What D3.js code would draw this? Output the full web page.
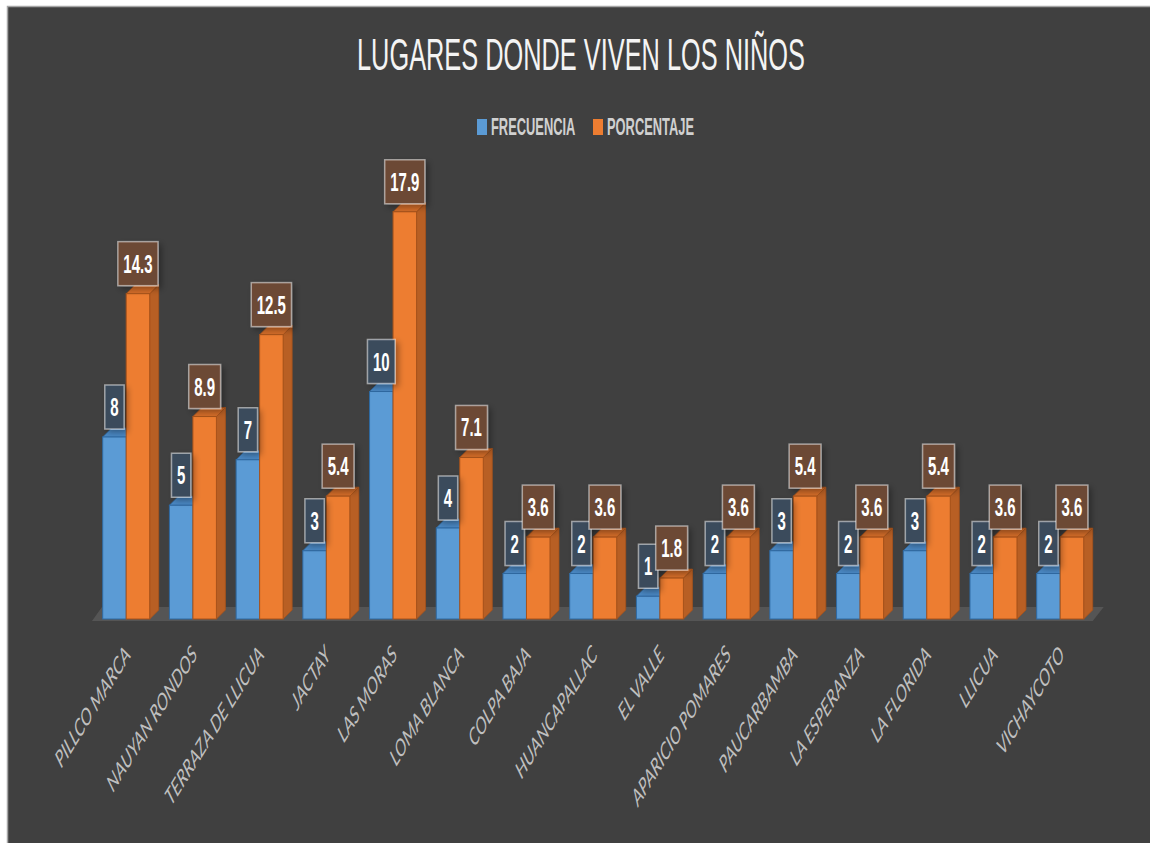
<!DOCTYPE html>
<html>
<head>
<meta charset="utf-8">
<script src="https://cdn.jsdelivr.net/npm/d3@7"></script>
<style>
  body { margin: 0; background: #ffffff; }
  svg { display: block; }
</style>
</head>
<body>
<div id="chart"></div>
<script>
const categorias = ['PILLCO MARCA', 'NAUYAN RONDOS', 'TERRAZA DE LLICUA', 'JACTAY', 'LAS MORAS', 'LOMA BLANCA',
  'COLPA BAJA', 'HUANCAPALLAC', 'EL VALLE', 'APARICIO POMARES', 'PAUCARBAMBA', 'LA ESPERANZA',
  'LA FLORIDA', 'LLICUA', 'VICHAYCOTO'];
const frecuencia = [8, 5, 7, 3, 10, 4, 2, 2, 1, 2, 3, 2, 3, 2, 2];
const porcentaje = [14.3, 8.9, 12.5, 5.4, 17.9, 7.1, 3.6, 3.6, 1.8, 3.6, 5.4, 3.6, 5.4, 3.6, 3.6];
const seriesNames = ['FRECUENCIA', 'PORCENTAJE'];
const titulo = 'LUGARES DONDE VIVEN LOS NIÑOS';

const W = 1150, H = 843;
const depth = { dx: 9, dy: 9 };
const barW = 23.5, barOffset = 10.7;

const styles = {
  FRECUENCIA: { front: '#5b9bd5', side: '#3f76ab', top: '#4a88c4', edge: '#2f6aa3', box: '#3b4b5c' },
  PORCENTAJE: { front: '#ed7d31', side: '#b85f24', top: '#d46d29', edge: '#a8531b', box: '#6c4834' }
};

const svg = d3.select('#chart').append('svg')
  .attr('width', W)
  .attr('height', H);

const defs = svg.append('defs');
const shadow = defs.append('filter').attr('id', 'shadow')
  .attr('x', '-50%').attr('y', '-50%').attr('width', '200%').attr('height', '200%');
shadow.append('feDropShadow')
  .attr('dx', 3).attr('dy', 3).attr('stdDeviation', 3)
  .attr('flood-color', '#000').attr('flood-opacity', 0.35);

// chart area (border only visible on top and left)
svg.append('rect')
  .attr('x', 7.5).attr('y', 6.5)
  .attr('width', W).attr('height', H)
  .attr('fill', '#404040')
  .attr('stroke', '#a6a6a6')
  .attr('stroke-width', 1.5);

// title
svg.append('text')
  .attr('x', 357).attr('y', 70)
  .attr('textLength', 448)
  .attr('lengthAdjust', 'spacingAndGlyphs')
  .style('font-family', '"Liberation Sans", Arial, sans-serif')
  .style('font-size', '44px')
  .attr('fill', '#f4f4f4')
  .text(titulo);

// legend (narrow text via horizontal scale)
const legendX = [477, 593];
const legend = svg.selectAll('.legend')
  .data(seriesNames)
  .enter()
  .append('g')
  .attr('class', 'legend')
  .attr('transform', (d, i) => `translate(${legendX[i]},119)`);

legend.append('rect')
  .attr('width', 10).attr('height', 16)
  .attr('fill', d => styles[d].front);

legend.append('g')
  .attr('transform', 'translate(14,16) scale(0.56,1)')
  .append('text')
  .style('font-family', '"Liberation Sans", Arial, sans-serif')
  .style('font-size', '23px')
  .style('font-weight', 'bold')
  .attr('fill', '#d0d0d0')
  .text(d => d);

// scales
const x = d3.scaleBand()
  .domain(categorias)
  .range([92, 1092.7])
  .paddingInner(0)
  .paddingOuter(0);

const y = d3.scaleLinear()
  .domain([0, 20])
  .range([619, 164]);

// floor
const [x0, x1] = x.range();
svg.append('polygon')
  .attr('points', [
    [x0, y(0) + 2], [x1, y(0) + 2],
    [x1 + 11, y(0) - 12], [x0 + 10, y(0) - 12]
  ].map(p => p.join(',')).join(' '))
  .attr('fill', '#555555');

const rows = categorias.map((c, i) => ({
  cat: c,
  bars: [
    { serie: 'FRECUENCIA', value: frecuencia[i], x: x(c) + barOffset },
    { serie: 'PORCENTAJE', value: porcentaje[i], x: x(c) + barOffset + barW }
  ]
}));

const bars = svg.selectAll('.group')
  .data(rows)
  .enter()
  .append('g')
  .attr('class', 'group')
  .selectAll('.bar')
  .data(d => d.bars)
  .enter()
  .append('g')
  .attr('class', 'bar');

function pts(arr) { return arr.map(p => p.join(',')).join(' '); }

// side face
bars.append('polygon')
  .attr('points', d => {
    const xr = d.x + barW, yt = y(d.value), yb = y(0);
    return pts([[xr, yb], [xr + depth.dx, yb - depth.dy], [xr + depth.dx, yt - depth.dy], [xr, yt]]);
  })
  .attr('fill', d => styles[d.serie].side)
  .attr('stroke', d => styles[d.serie].edge)
  .attr('stroke-width', 0.8);

// top face
bars.append('polygon')
  .attr('points', d => {
    const xl = d.x, xr = d.x + barW, yt = y(d.value);
    return pts([[xl, yt], [xl + depth.dx, yt - depth.dy], [xr + depth.dx, yt - depth.dy], [xr, yt]]);
  })
  .attr('fill', d => styles[d.serie].top)
  .attr('stroke', d => styles[d.serie].edge)
  .attr('stroke-width', 0.8);

// front face
bars.append('rect')
  .attr('x', d => d.x)
  .attr('y', d => y(d.value))
  .attr('width', barW)
  .attr('height', d => y(0) - y(d.value))
  .attr('fill', d => styles[d.serie].front)
  .attr('stroke', d => styles[d.serie].edge)
  .attr('stroke-width', 1);

// data labels
const labelScale = 0.6;
const labels = svg.selectAll('.dlabel')
  .data(rows.flatMap(r => r.bars))
  .enter()
  .append('g')
  .attr('class', 'dlabel')
  .attr('transform', d => `translate(${d.x + barW / 2},${y(d.value) - 8})`);

const boxes = labels.append('rect')
  .attr('fill', d => styles[d.serie].box)
  .attr('stroke', 'rgba(255,255,255,0.5)')
  .attr('stroke-width', 1.5)
  .attr('filter', 'url(#shadow)');

const ltext = labels.append('g')
  .attr('transform', `translate(0,-13) scale(${labelScale},1)`)
  .append('text')
  .attr('text-anchor', 'middle')
  .style('font-family', '"Liberation Sans", Arial, sans-serif')
  .style('font-size', '25px')
  .style('font-weight', 'bold')
  .attr('fill', '#ffffff')
  .text(d => String(d.value));

ltext.each(function (d) { d.tw = this.getComputedTextLength() * labelScale; });
boxes
  .attr('x', d => -(d.tw + 11) / 2)
  .attr('y', -44)
  .attr('width', d => d.tw + 11)
  .attr('height', 44);

// category labels
svg.selectAll('.cat')
  .data(categorias)
  .enter()
  .append('g')
  .attr('class', 'cat')
  .attr('transform', d => `translate(${x(d) + x.bandwidth() / 2 + 6},656) scale(0.62,1) rotate(-45)`)
  .append('text')
  .attr('text-anchor', 'end')
  .style('font-family', 'Lato, "Open Sans", sans-serif')
  .style('font-size', '24px')
  .style('font-style', 'italic')
  .attr('fill', '#bfbfbf')
  .text(d => d);
</script>
</body>
</html>
